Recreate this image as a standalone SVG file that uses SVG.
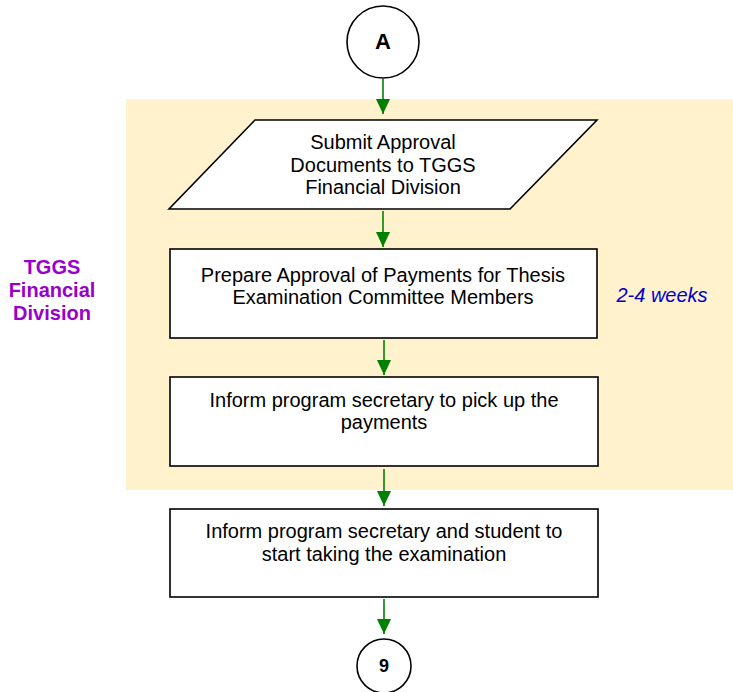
<svg xmlns="http://www.w3.org/2000/svg" width="733" height="692" viewBox="0 0 733 692">
<defs>
<style>
.shape{fill:#fff;stroke:#000;stroke-width:1.6}
.t{font-family:"Liberation Sans",Arial,sans-serif;font-size:20px;fill:#000;text-anchor:middle}
.b{font-weight:bold}
.lane-label{fill:#9900CC}
.dur{fill:#0000CC;font-style:italic}
.edge{stroke:#008000;stroke-width:1.6;fill:none;marker-end:url(#ah)}
</style>
<marker id="ah" markerUnits="userSpaceOnUse" markerWidth="15" markerHeight="14" viewBox="0 0 15 14" refX="15" refY="7" orient="auto">
<path d="M0,0 L15,7 L0,14 Z" fill="#008000"/>
</marker>
</defs>
<rect id="lane" x="126" y="99" width="607" height="391" fill="#FFF2CC"/>
<g id="lane-label">
<text class="t b lane-label" x="52" y="274">TGGS</text>
<text class="t b lane-label" x="52" y="297">Financial</text>
<text class="t b lane-label" x="52" y="320">Division</text>
</g>
<g id="duration">
<text class="t dur" x="662" y="302">2-4 weeks</text>
</g>
<g id="connectors">
<path class="edge" d="M383,79 V114"/>
<path class="edge" d="M383,211 V247"/>
<path class="edge" d="M384,340 V375"/>
<path class="edge" d="M384,469 V506"/>
<path class="edge" d="M384,599 V634"/>
</g>
<g id="node-A">
<circle class="shape" cx="383" cy="42" r="36"/>
<text class="t b" x="383" y="49" style="font-size:22px">A</text>
</g>
<g id="node-submit">
<polygon class="shape" points="255,120 597,120 510,209 169,209"/>
<text class="t" x="383" y="149">Submit Approval</text>
<text class="t" x="383" y="172">Documents to TGGS</text>
<text class="t" x="383" y="194">Financial Division</text>
</g>
<g id="node-prepare">
<rect class="shape" x="170" y="249" width="427" height="89"/>
<text class="t" x="383" y="282">Prepare Approval of Payments for Thesis</text>
<text class="t" x="383" y="304">Examination Committee Members</text>
</g>
<g id="node-inform-pickup">
<rect class="shape" x="170" y="377" width="428" height="89"/>
<text class="t" x="384" y="407">Inform program secretary to pick up the</text>
<text class="t" x="384" y="429">payments</text>
</g>
<g id="node-inform-exam">
<rect class="shape" x="170" y="509" width="428" height="88"/>
<text class="t" x="384" y="538">Inform program secretary and student to</text>
<text class="t" x="384" y="561">start taking the examination</text>
</g>
<g id="node-9">
<circle class="shape" cx="384" cy="666" r="27"/>
<text class="t b" x="384" y="672" style="font-size:18px">9</text>
</g>
</svg>
